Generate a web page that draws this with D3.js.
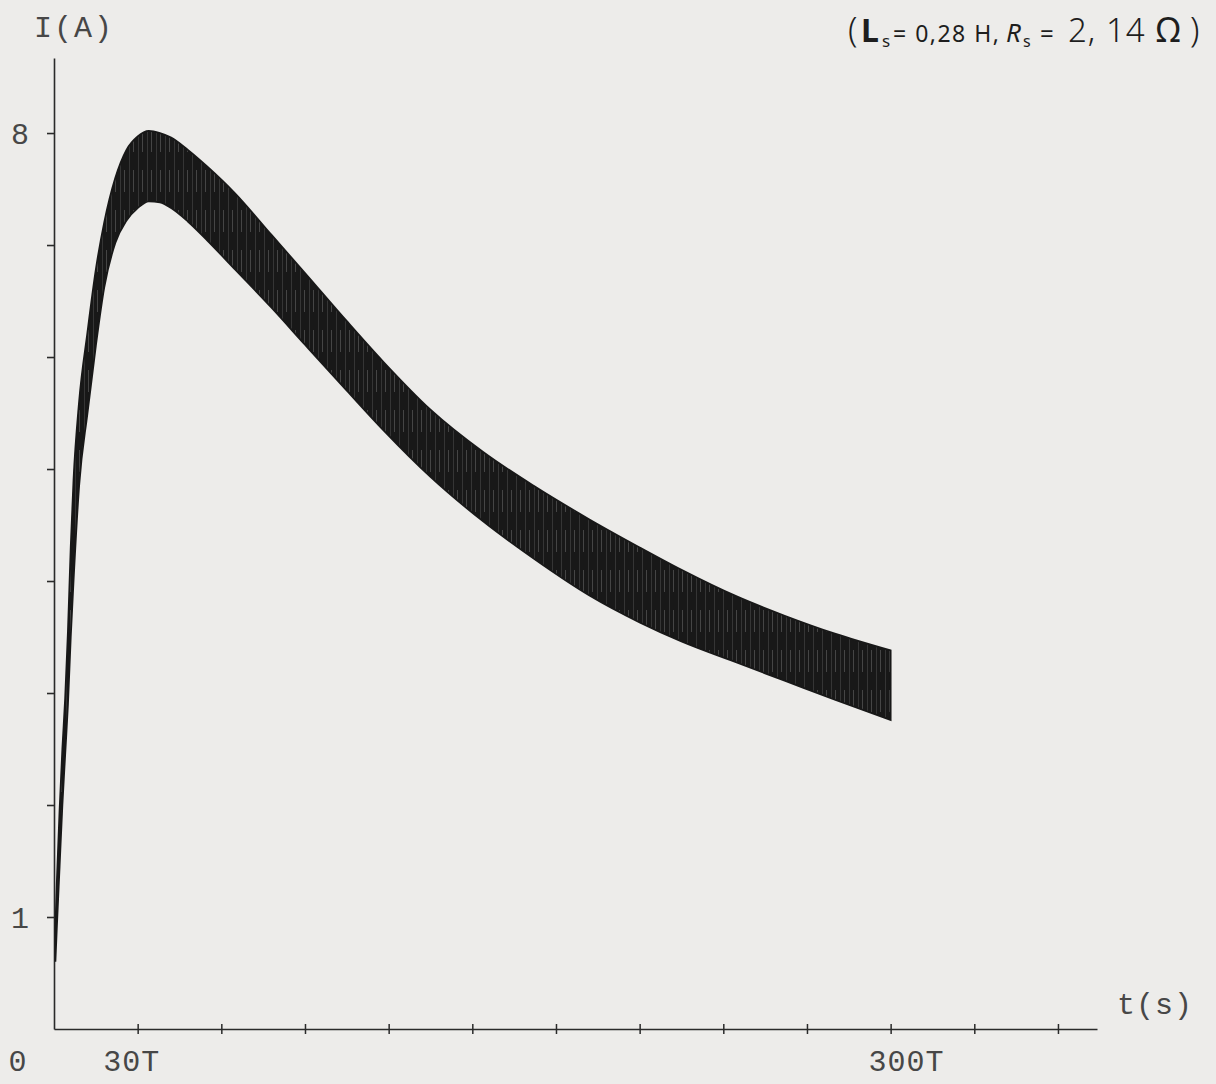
<!DOCTYPE html>
<html>
<head>
<meta charset="utf-8">
<script src="https://cdn.jsdelivr.net/npm/d3@7"></script>
<style>
  html, body { margin: 0; padding: 0; background: #edecea; }
  svg { display: block; }
</style>
</head>
<body>
<div id="chart"></div>
<script>
// time in periods T, current envelope in A
const tValues = [0.5, 1, 2, 3, 4, 5, 6, 7, 9, 12, 15, 18, 22, 26, 30, 34, 38, 42, 48, 55, 65, 78, 90, 105, 118, 135, 154, 172, 192, 210, 225, 245, 262, 280, 300]
const iUpper = [0.9, 1.3, 1.95, 2.5, 2.95, 3.55, 4.3, 4.9, 5.6, 6.22, 6.78, 7.2, 7.6, 7.85, 7.97, 8.02, 8.0, 7.96, 7.85, 7.7, 7.46, 7.09, 6.75, 6.32, 5.96, 5.53, 5.15, 4.85, 4.55, 4.3, 4.1, 3.86, 3.69, 3.53, 3.38]
const iLower = [0.6, 0.9, 1.45, 2.0, 2.45, 2.9, 3.5, 4.0, 4.85, 5.5, 6.1, 6.62, 7.02, 7.22, 7.33, 7.39, 7.38, 7.33, 7.21, 7.04, 6.78, 6.44, 6.11, 5.7, 5.35, 4.93, 4.53, 4.2, 3.87, 3.63, 3.46, 3.27, 3.11, 2.94, 2.76]

const yTickValues = [1, 2, 3, 4, 5, 6, 7, 8]
const yLabelValues = [1, 8]
const xTickValues = [30, 60, 90, 120, 150, 180, 210, 240, 270, 300, 330, 360]
const xLabelValues = [0, 30, 300]
const xLabelTexts = ["0", "30T", "300T"]

const width = 1216
const height = 1084
const tMax = 374
const iMax = 8.67

const svg = d3.select("#chart").append("svg")
    .attr("width", width)
    .attr("height", height)

svg.append("rect").attr("width", width).attr("height", height).attr("fill", "#edecea")

// streaky fill like the plotter trace
const defs = svg.append("defs")
const pat = defs.append("pattern")
    .attr("id", "streaks")
    .attr("patternUnits", "userSpaceOnUse")
    .attr("width", 9).attr("height", 40)
pat.append("rect").attr("width", 9).attr("height", 40).attr("fill", "#181818")
pat.append("rect").attr("x", 3).attr("width", 1).attr("height", 40).attr("fill", "#353535")
pat.append("rect").attr("x", 7).attr("y", 10).attr("width", 1).attr("height", 22).attr("fill", "#454545")

const x = d3.scaleLinear().domain([0, tMax]).range([54, 1097])
const y = d3.scaleLinear().domain([0, iMax]).range([1029, 58])

const mono = "'Liberation Mono', 'DejaVu Sans Mono', monospace"
const inkText = "#474747"

// y axis
const yAxis = svg.append("g")
    .attr("transform", "translate(" + x(0) + ",0)")
    .call(d3.axisLeft(y).tickValues(yTickValues).tickSize(7).tickSizeOuter(0).tickFormat(""))
yAxis.select(".domain").attr("stroke", "#2a2a2a").attr("stroke-width", 1.6)
yAxis.selectAll(".tick line").attr("stroke", "#2a2a2a").attr("stroke-width", 1.6)

// x axis, ticks crossing the line
const xAxis = svg.append("g")
    .attr("transform", "translate(0," + y(0) + ")")
    .call(d3.axisBottom(x).tickValues(xTickValues).tickSize(4).tickSizeOuter(0).tickFormat(""))
xAxis.select(".domain").attr("stroke", "#2a2a2a").attr("stroke-width", 1.6)
xAxis.selectAll(".tick line").attr("y1", -5).attr("y2", 5).attr("stroke", "#2a2a2a").attr("stroke-width", 1.5)

// current band
const rows = tValues.map(function(t, i) { return {t: t, hi: iUpper[i], lo: iLower[i]} })
const band = d3.area()
    .x(function(d) { return x(d.t) })
    .y0(function(d) { return y(d.lo) })
    .y1(function(d) { return y(d.hi) })
    .curve(d3.curveMonotoneX)

svg.append("path")
    .datum(rows)
    .attr("d", band)
    .attr("fill", "url(#streaks)")
    .attr("stroke", "#181818")
    .attr("stroke-width", 1.8)

// labels
svg.selectAll(".ylab")
    .data(yLabelValues)
    .enter().append("text")
    .attr("class", "ylab")
    .attr("x", 20)
    .attr("y", function(d) { return y(d) + 11 })
    .attr("text-anchor", "middle")
    .style("font-family", mono)
    .style("font-size", "30px")
    .attr("fill", inkText)
    .text(function(d) { return d })

svg.selectAll(".xlab")
    .data(xLabelValues)
    .enter().append("text")
    .attr("class", "xlab")
    .attr("x", function(d, i) { return i == 0 ? 18 : x(d) + (i == 2 ? 16 : -6) })
    .attr("y", 1071)
    .attr("text-anchor", "middle")
    .style("font-family", mono)
    .style("font-size", "30px")
    .style("letter-spacing", "1px")
    .attr("fill", inkText)
    .text(function(d, i) { return xLabelTexts[i] })

svg.append("text")
    .attr("x", 34).attr("y", 37)
    .style("font-family", mono)
    .style("font-size", "30px")
    .style("letter-spacing", "2px")
    .attr("fill", inkText)
    .text("I(A)")

svg.append("text")
    .attr("x", 1117).attr("y", 1014)
    .style("font-family", mono)
    .style("font-size", "30px")
    .style("letter-spacing", "1px")
    .attr("fill", inkText)
    .text("t(s)")

// handwritten parameters, top right
const hand = "'Noto Sans', 'DejaVu Sans', sans-serif"
const note = svg.append("text")
    .attr("y", 42)
    .style("font-family", hand)
    .attr("fill", "#1e1e1e")
note.append("tspan").attr("x", 848).style("font-size", "34px").style("font-weight", 300).text("(")
note.append("tspan").attr("x", 861).style("font-size", "32px").style("font-weight", 700).text("L")
note.append("tspan").attr("x", 882).attr("dy", 5).style("font-size", "17px").text("s")
note.append("tspan").attr("x", 893).attr("dy", -5).style("font-size", "23px").style("letter-spacing", "1.5px").text("= 0,28 H,")
note.append("tspan").attr("x", 1006).style("font-size", "26px").style("font-style", "italic").text("R")
note.append("tspan").attr("x", 1023).attr("dy", 5).style("font-size", "16px").text("s")
note.append("tspan").attr("x", 1040).attr("dy", -5).style("font-size", "24px").text("=")
note.append("tspan").attr("x", 1068).style("font-size", "33px").style("font-weight", 300).style("letter-spacing", "1px").text("2, 14")
note.append("tspan").attr("x", 1156).style("font-size", "34px").text("Ω")
note.append("tspan").attr("x", 1190).style("font-size", "34px").style("font-weight", 300).text(")")
</script>
</body>
</html>
